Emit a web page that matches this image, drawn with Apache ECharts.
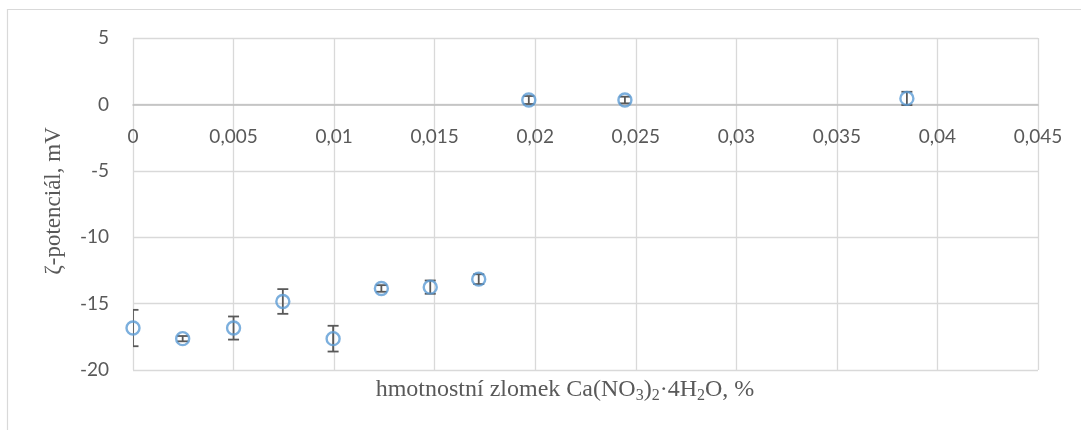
<!DOCTYPE html>
<html>
<head>
<meta charset="utf-8">
<script src="https://cdn.jsdelivr.net/npm/echarts@6/dist/echarts.min.js"></script>
<style>
  html, body { margin: 0; padding: 0; background: #fff; }
  #chart { width: 1081px; height: 430px; }
</style>
</head>
<body>
<div id="chart"></div>
<script>
// Mass fraction of Ca(NO3)2·4H2O, %
const massFraction = [0, 0.00247, 0.005, 0.00745, 0.00995, 0.01235, 0.01478, 0.01719, 0.01968, 0.02446, 0.03848];
// Zeta potential, mV
const zetaPotential = [-16.84, -17.64, -16.84, -14.84, -17.64, -13.86, -13.76, -13.16, 0.33, 0.33, 0.45];
// Standard deviation of zeta potential, mV
const zetaError = [1.37, 0.2, 0.87, 0.93, 0.97, 0.25, 0.5, 0.37, 0.3, 0.25, 0.5];

const xTicks = { min: 0, max: 0.045, step: 0.005 };
const yTicks = { min: -20, max: 5, step: 5 };

const points = massFraction.map((x, i) => [x, zetaPotential[i], zetaError[i]]);

const chart = echarts.init(document.getElementById('chart'), null, { renderer: 'canvas' });

const tickFont = { fontFamily: 'Lato', fontSize: 19, color: '#595959' };
const gridLine = { show: true, lineStyle: { color: '#d9d9d9', width: 1.3 } };
const xFormatter = v => String(parseFloat(v.toFixed(4))).replace('.', ',');

// plot area geometry (px)
const plotLeft = 133, plotTop = 38, plotRight = 43, plotBottom = 60;
const plotHeight = 430 - plotTop - plotBottom;
// height of the band between the top of the plot and the zero line
const upperBand = plotHeight * (yTicks.max - 0) / (yTicks.max - yTicks.min);

chart.setOption({
  animation: false,
  backgroundColor: '#ffffff',
  grid: [
    { left: plotLeft, top: plotTop, right: plotRight, bottom: plotBottom, containLabel: false },
    // band above the zero line; its x axis carries the tick labels just under y = 0
    { left: plotLeft, top: plotTop, right: plotRight, height: upperBand, containLabel: false }
  ],
  xAxis: [
    {
      type: 'value',
      gridIndex: 0,
      min: xTicks.min,
      max: xTicks.max,
      interval: xTicks.step,
      axisLine: { onZero: true, lineStyle: { color: '#bfbfbf', width: 1.5 } },
      axisTick: { show: false },
      axisLabel: { show: false },
      splitLine: gridLine
    },
    {
      type: 'value',
      gridIndex: 1,
      min: xTicks.min,
      max: xTicks.max,
      interval: xTicks.step,
      axisLine: { show: false },
      axisTick: { show: false },
      axisLabel: Object.assign({ margin: 23, formatter: xFormatter }, tickFont),
      splitLine: { show: false }
    }
  ],
  yAxis: [
    {
      type: 'value',
      gridIndex: 0,
      min: yTicks.min,
      max: yTicks.max,
      interval: yTicks.step,
      axisLine: { show: false },
      axisTick: { show: false },
      axisLabel: Object.assign({ margin: 24 }, tickFont),
      splitLine: gridLine
    },
    {
      type: 'value',
      gridIndex: 1,
      min: 0,
      max: yTicks.max,
      show: false
    }
  ],
  series: [
    {
      // error bars with caps
      type: 'custom',
      xAxisIndex: 0,
      yAxisIndex: 0,
      clip: true,
      z: 2,
      data: points,
      renderItem: function (params, api) {
        const x = api.value(0), y = api.value(1), e = api.value(2);
        const top = api.coord([x, y + e]);
        const bot = api.coord([x, y - e]);
        const half = 5.5;
        const style = { stroke: '#595959', lineWidth: 1.8, fill: null };
        return {
          type: 'group',
          children: [
            { type: 'line', shape: { x1: top[0], y1: top[1], x2: bot[0], y2: bot[1] }, style: style },
            { type: 'line', shape: { x1: top[0] - half, y1: top[1], x2: top[0] + half, y2: top[1] }, style: style },
            { type: 'line', shape: { x1: bot[0] - half, y1: bot[1], x2: bot[0] + half, y2: bot[1] }, style: style }
          ]
        };
      },
      encode: { x: 0, y: 1 }
    },
    {
      type: 'scatter',
      xAxisIndex: 0,
      yAxisIndex: 0,
      z: 3,
      clip: false,
      data: points.map(p => [p[0], p[1]]),
      symbol: 'circle',
      symbolSize: 13,
      itemStyle: { color: 'rgba(0,0,0,0)', borderColor: '#5b9bd5', borderWidth: 2.4 }
    }
  ],
  graphic: [
    {
      type: 'rect',
      silent: true,
      shape: { x: 7.5, y: 9.5, width: 1200, height: 600 },
      style: { fill: null, stroke: '#d9d9d9', lineWidth: 1.2 }
    },
    {
      type: 'text',
      x: 54,
      y: 201,
      rotation: Math.PI / 2,
      style: {
        text: 'ζ-potenciál, mV',
        fontFamily: 'Liberation Serif',
        fontSize: 23,
        fill: '#595959',
        align: 'center',
        verticalAlign: 'middle'
      }
    },
    {
      type: 'text',
      x: 565,
      y: 390,
      style: {
        text: '{a|hmotnostní zlomek Ca(NO}{s|3}{a|)}{s|2}{a|·4H}{s|2}{a|O, %}',
        align: 'center',
        verticalAlign: 'middle',
        fill: '#595959',
        rich: {
          a: { fontFamily: 'Liberation Serif', fontSize: 24, fill: '#595959', lineHeight: 28, verticalAlign: 'middle' },
          s: { fontFamily: 'Liberation Serif', fontSize: 16, fill: '#595959', lineHeight: 15, verticalAlign: 'bottom' }
        }
      }
    }
  ]
});
</script>
</body>
</html>
